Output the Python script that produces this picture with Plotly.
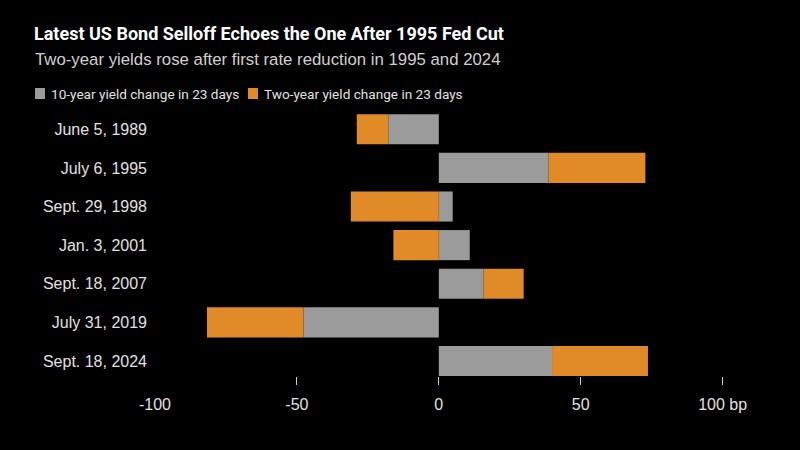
import plotly.graph_objects as go

categories = ["June 5, 1989", "July 6, 1995", "Sept. 29, 1998", "Jan. 3, 2001",
              "Sept. 18, 2007", "July 31, 2019", "Sept. 18, 2024"]
ten_year = [-17.8, 38.7, 4.9, 10.9, 15.8, -47.7, 39.9]
two_year = [-11.1, 34.1, -31.0, -16.0, 14.1, -34.0, 33.8]
series_names = ["10-year yield change in 23 days", "Two-year yield change in 23 days"]
tick_vals = [-100, -50, 0, 50, 100]
tick_text = ["-100", "-50", "0", "50", "100 bp"]

GRAY = "#9b9b9b"
ORANGE = "#e08b28"
FONT = "Liberation Sans"
TITLE_FONT = "Roboto"

fig = go.Figure()
fig.add_trace(go.Bar(y=categories, x=ten_year, orientation="h", name=series_names[0],
                     marker=dict(color=GRAY, line=dict(width=0)), showlegend=False))
fig.add_trace(go.Bar(y=categories, x=two_year, orientation="h", name=series_names[1],
                     marker=dict(color=ORANGE, line=dict(width=0)), showlegend=False))

W, H = 800, 450
L, R, T, B = 155, 49, 110, 74
pw = W - L - R
ph = H - T - B

def px_x(p):
    return (p - L) / pw

def px_y(p):
    return (H - B - p) / ph

# custom legend (square swatch + label)
legend_items = [(35, 49, GRAY, series_names[0]), (248, 262, ORANGE, series_names[1])]
shapes = []
annotations = []
for sx, tx, col, name in legend_items:
    shapes.append(dict(type="rect", xref="paper", yref="paper",
                       x0=px_x(sx), x1=px_x(sx + 10), y0=px_y(99), y1=px_y(88),
                       fillcolor=col, line=dict(width=0)))
    annotations.append(dict(text=name, xref="paper", yref="paper", x=px_x(tx), y=px_y(93.5),
                            xanchor="left", yanchor="middle", showarrow=False,
                            font=dict(size=13.6, color="#e0e0e0", family=TITLE_FONT)))

annotations += [
    dict(text="<b>Latest US Bond Selloff Echoes the One After 1995 Fed Cut</b>",
         xref="paper", yref="paper", x=px_x(32), y=px_y(34), xanchor="left", yanchor="middle",
         showarrow=False, font=dict(size=18, color="white", family=TITLE_FONT)),
    dict(text="Two-year yields rose after first rate reduction in 1995 and 2024",
         xref="paper", yref="paper", x=px_x(33), y=px_y(60), xanchor="left", yanchor="middle",
         showarrow=False, font=dict(size=16.8, color="#d0d0d0", family=FONT)),
]

fig.update_layout(
    width=W, height=H,
    margin=dict(l=L, r=R, t=T, b=B),
    paper_bgcolor="black", plot_bgcolor="black",
    barmode="relative", bargap=0.22,
    font=dict(family=FONT, color="#e0e0e0", size=16),
    xaxis=dict(range=[-100, 110], tickvals=tick_vals, ticktext=tick_text, ticks="",
               showgrid=False, zeroline=False, showline=False,
               tickfont=dict(size=16, color="#e0e0e0"), ticklabelstandoff=17,
               minor=dict(tickmode="array", tickvals=[-50, 0, 50, 100], ticks="outside",
                          ticklen=8, tickwidth=1, tickcolor="#cccccc", showgrid=False)),
    yaxis=dict(categoryorder="array", categoryarray=categories, range=[6.39, -0.5],
               showgrid=False, zeroline=False, showline=False, ticks="",
               tickfont=dict(size=16, color="#e0e0e0"), ticklabelstandoff=7),
    shapes=shapes,
    annotations=annotations,
)

fig.write_html("out.html")
